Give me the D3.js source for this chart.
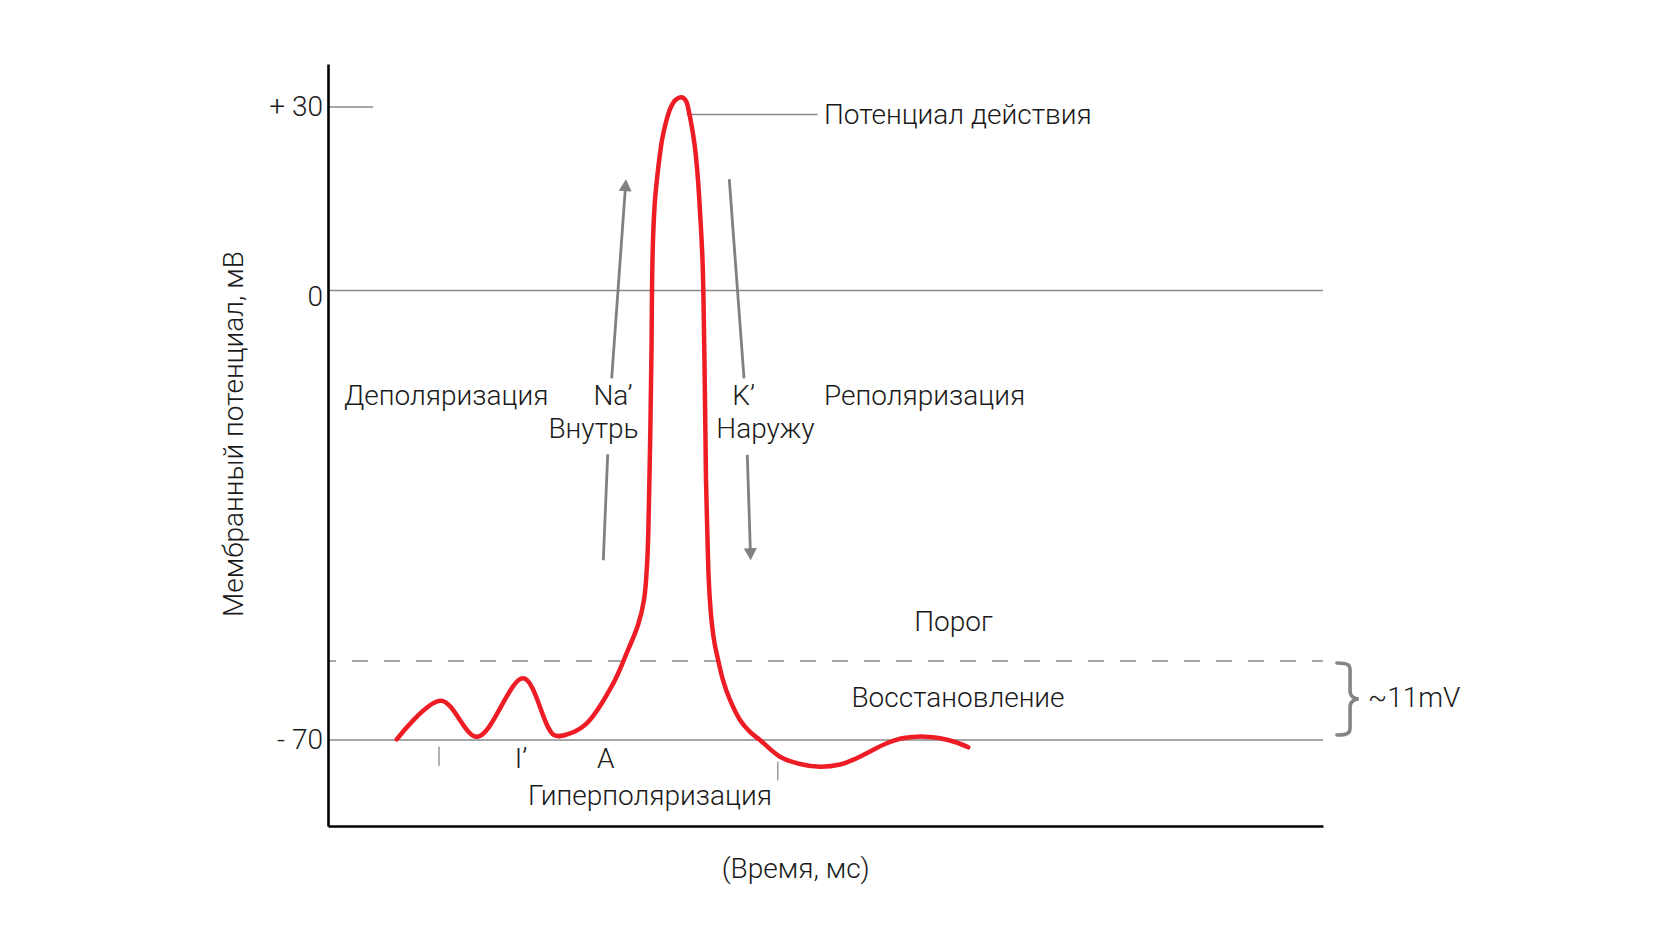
<!DOCTYPE html>
<html><head><meta charset="utf-8">
<script src="https://cdn.jsdelivr.net/npm/d3@7"></script>
<style>
html,body{margin:0;padding:0;background:#fff;}
svg{display:block;}
text{font-family:Roboto,"Noto Sans",sans-serif;font-weight:300;fill:#1a1a1a;}
</style></head><body>
<svg id="chart" width="1680" height="933"></svg>
<script>
// ---- data ----
const timeMs = [0.6905, 1.1357, 1.5005, 1.9628, 2.2714, 2.4322, 2.6000, 2.8673, 3.0151, 3.1156, 3.1759, 3.2090, 3.2261, 3.2412, 3.2513, 3.2563, 3.2663, 3.2864, 3.3166, 3.3568, 3.3970, 3.4422, 3.4925, 3.5548, 3.5980, 3.6281, 3.6583, 3.6884, 3.7186, 3.7437, 3.7638, 3.7739, 3.7889, 3.7990, 3.8141, 3.8291, 3.8543, 3.8844, 3.9226, 3.9698, 4.0402, 4.1407, 4.2412, 4.3417, 4.5427, 4.7437, 4.9447, 5.1457, 5.3136, 5.4573, 5.6151, 5.7588, 5.9166, 6.0503, 6.1508, 6.3015, 6.4352];
const potentialMv = [-69.89, -63.88, -69.49, -60.39, -69.22, -68.96, -67.40, -61.17, -55.98, -52.09, -48.20, -41.97, -32.63, -20.17, -9.27, 0.0, 8.26, 14.80, 19.70, 24.60, 27.55, 29.84, 31.14, 31.59, 30.98, 29.18, 26.57, 23.30, 18.07, 11.53, 4.99, -1.48, -17.05, -29.51, -38.85, -45.86, -51.31, -54.89, -57.65, -60.66, -63.77, -66.89, -68.75, -70.00, -72.60, -73.74, -74.16, -73.82, -72.85, -71.71, -70.51, -69.77, -69.49, -69.53, -69.74, -70.31, -71.14];
const yTickValues = [-70, 0, 30];
const yTickLabels = ["- 70", "0", "+ 30"];
const restingMv = -70, zeroMv = 0, peakRefMv = 30, thresholdMv = -57.7;
const naArrowT = [2.767, 2.811, 2.851, 2.995];
const naArrowV = [-42.0, -25.5, -13.7, 18.2];
const kArrowT = [4.033, 4.181, 4.214, 4.248];
const kArrowV = [18.2, -13.7, -25.6, -42.0];
const markT = [1.116, 4.52];
const markV1 = [-71.0, -73.4];
const markV2 = [-74.0, -76.3];
const labelTexts = ["Потенциал действия", "Деполяризация", "Na’", "Внутрь", "K’", "Наружу", "Реполяризация", "Порог", "Восстановление", "~11mV", "I’", "A", "Гиперполяризация"];
const labelT = [4.985, 0.161, 2.864, 2.668, 4.177, 4.397, 4.985, 6.286, 6.332, 10.452, 1.940, 2.791, 3.236];
const labelV = [28.76, -16.34, -16.34, -21.5, -16.34, -21.5, -16.34, -51.5, -63.4, -63.4, -72.9, -72.9, -78.6];
const labelAnchor = ["start", "start", "middle", "middle", "middle", "middle", "start", "middle", "middle", "start", "middle", "middle", "middle"];
const leaderT = [3.605, 4.92];
const leaderV = 28.76;
const yTitle = "Мембранный потенциал, мВ";
const xTitle = "(Время, мс)";

// ---- scales ----
const svg = d3.select("#chart");
const x = d3.scaleLinear().domain([0, 10]).range([328, 1323]);
const y = d3.scaleLinear().domain([-83.4, -70, 0, 30, 37]).range([826, 740, 290.5, 107, 64]);

const gray = "#8a8a8a";
const FS = 28;

// reference lines
function hline(v, t0, t1, dash) {
  const l = svg.append("line")
    .attr("x1", x(t0)).attr("x2", x(t1))
    .attr("y1", y(v)).attr("y2", y(v))
    .attr("stroke", gray).attr("stroke-width", 1.5);
  if (dash) l.attr("stroke-dasharray", "16,16").attr("stroke-dashoffset", 8);
  return l;
}
hline(zeroMv, 0, 10);
hline(restingMv, 0, 10);
hline(thresholdMv, 0, 10, true);
hline(peakRefMv, 0, 0.452);

// leader
svg.append("line")
  .attr("x1", x(leaderT[0])).attr("x2", x(leaderT[1]))
  .attr("y1", y(leaderV)).attr("y2", y(leaderV))
  .attr("stroke", gray).attr("stroke-width", 1.5);

// marks below resting line
markT.forEach((t, i) => {
  svg.append("line")
    .attr("x1", x(t)).attr("x2", x(t))
    .attr("y1", y(markV1[i])).attr("y2", y(markV2[i]))
    .attr("stroke", "#999").attr("stroke-width", 1.5);
});

// arrows
const arrowColor = "#808080";
function arrow(ts, vs) {
  svg.append("line").attr("x1", x(ts[0])).attr("y1", y(vs[0])).attr("x2", x(ts[1])).attr("y2", y(vs[1]))
    .attr("stroke", arrowColor).attr("stroke-width", 2.8);
  const px = x(ts[3]), py = y(vs[3]);
  const qx = x(ts[2]), qy = y(vs[2]);
  const ang = Math.atan2(py - qy, px - qx);
  const hl = 12, hw = 6.5;
  const bx = px - hl * Math.cos(ang), by = py - hl * Math.sin(ang);
  svg.append("line").attr("x1", qx).attr("y1", qy).attr("x2", bx + Math.cos(ang)).attr("y2", by + Math.sin(ang))
    .attr("stroke", arrowColor).attr("stroke-width", 2.8);
  const nx = -Math.sin(ang), ny = Math.cos(ang);
  svg.append("path")
    .attr("d", `M${px},${py}L${bx + nx * hw},${by + ny * hw}L${bx - nx * hw},${by - ny * hw}Z`)
    .attr("fill", arrowColor);
}
arrow(naArrowT, naArrowV);
arrow(kArrowT, kArrowV);

// axes
const yAxis = d3.axisLeft(y).tickValues(yTickValues).tickSize(0).tickSizeOuter(0).tickPadding(5)
  .tickFormat((d, i) => yTickLabels[i]);
const gy = svg.append("g").attr("transform", `translate(${x(0)},0)`).call(yAxis);
gy.select(".domain").attr("stroke", "#000").attr("stroke-width", 2.6);
gy.selectAll("text").style("font-family", "Roboto, 'Noto Sans', sans-serif").style("font-weight", 300)
  .style("font-size", FS + "px").attr("fill", "#1a1a1a");
gy.selectAll(".tick").filter(d => d === 0).select("text").attr("dy", "0.55em");

const xAxis = d3.axisBottom(x).tickValues([]).tickSizeOuter(0);
const gx = svg.append("g").attr("transform", `translate(0,${y(-83.4)})`).call(xAxis);
gx.select(".domain").attr("stroke", "#000").attr("stroke-width", 2.6);

// curve
const pts = timeMs.map((t, i) => [t, potentialMv[i]]);
const line = d3.line().x(d => x(d[0])).y(d => y(d[1])).curve(d3.curveCatmullRom.alpha(0.5));
svg.append("path").attr("d", line(pts)).attr("fill", "none")
  .attr("stroke", "#ee1c25").attr("stroke-width", 4.5).attr("stroke-linecap", "round").attr("stroke-linejoin", "round");

// brace
(function () {
  const x0 = x(10.14), xt = x(10.36), xm = x0 + (xt - x0) * 0.6;
  const y1 = y(thresholdMv) + 2, y2 = y(restingMv) - 5, ym = (y1 + y2) / 2;
  const d = `M${x0},${y1}C${xm + 2},${y1} ${xm},${y1 + 4} ${xm},${y1 + 12}` +
    `L${xm},${ym - 8}C${xm},${ym - 3} ${xm + 4},${ym} ${xt},${ym}` +
    `C${xm + 4},${ym} ${xm},${ym + 3} ${xm},${ym + 8}` +
    `L${xm},${y2 - 12}C${xm},${y2 - 4} ${xm + 2},${y2} ${x0},${y2}`;
  svg.append("path").attr("d", d).attr("fill", "none").attr("stroke", "#858585").attr("stroke-width", 3.6).attr("stroke-linecap", "round");
})();

// labels
labelTexts.forEach((s, i) => {
  svg.append("text").attr("x", x(labelT[i])).attr("y", y(labelV[i])).attr("dy", "0.35em")
    .attr("text-anchor", labelAnchor[i]).style("font-size", FS + "px").text(s);
});

// titles
svg.append("text").attr("transform", "translate(233.6,434) rotate(-90)").attr("dy", "0.35em")
  .attr("text-anchor", "middle").style("font-size", FS + "px").text(yTitle);
svg.append("text").attr("x", 795.7).attr("y", 868).attr("dy", "0.35em")
  .attr("text-anchor", "middle").style("font-size", FS + "px").text(xTitle);
</script>
</body></html>
